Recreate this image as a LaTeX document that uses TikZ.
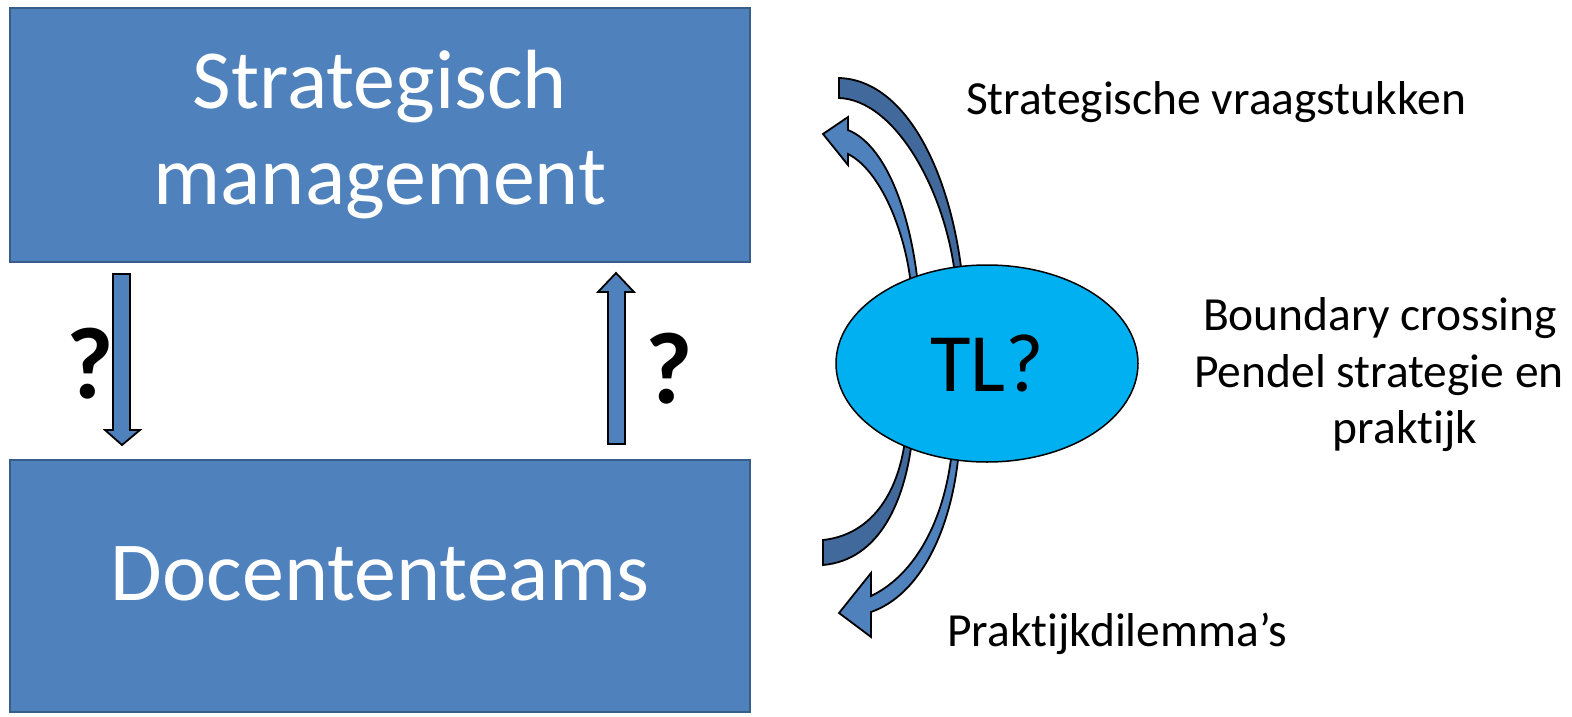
\documentclass[tikz,border=0pt]{standalone}
\usepackage{fontspec}
\setmainfont{Carlito}[Ligatures={NoCommon}]
\usetikzlibrary{shapes.geometric}
\definecolor{boxblue}{HTML}{4F81BD}
\definecolor{boxedge}{HTML}{385D8A}
\definecolor{darkarr}{HTML}{41699B}
\definecolor{tlblue}{HTML}{00B0F0}
\tikzset{
  bigbox/.style={draw=boxedge, line width=2pt, fill=boxblue, text=white, align=center,
    minimum width=740pt, inner sep=0pt, font=\fontsize{84}{96}\selectfont},
  lightarr/.style={draw=black, line width=1.8pt, fill=boxblue, line join=miter},
  darkarrow/.style={draw=black, line width=1.8pt, fill=darkarr, line join=miter},
  qmark/.style={font=\fontsize{102}{110}\selectfont\bfseries},
  sidetext/.style={font=\fontsize{47.5}{57}\selectfont, anchor=base}
}
\begin{document}
\begin{tikzpicture}[x=1pt,y=-1pt]
\useasboundingbox (0,0) rectangle (1572,717);

\node[bigbox, minimum height=254pt] (sm) at (380,135) {Strategisch\\management};
\node[bigbox, minimum height=252pt, text height=60pt, text depth=32pt] (dt) at (380,586) {Docententeams};

% straight arrows
\draw[lightarr] (113,274) -- (130,274) -- (130,430) -- (140,430) -- (122,445) -- (105,430) -- (113,430) -- cycle;
\draw[lightarr] (608,444) -- (625,444) -- (625,292) -- (634,292) -- (616,273) -- (598,292) -- (608,292) -- cycle;
\node[qmark] (q1) at (90,364) {?};
\node[qmark] (q2) at (669,369) {?};

% curved arrows top
\draw[darkarrow] (839,78) -- (839,98)
  .. controls (895,100) and (945,190) .. (955,275)
  -- (962,275)
  .. controls (950,170) and (905,80) .. (839,78)
  -- cycle;
\draw[lightarr] (823,134) -- (848,117) -- (848,130)
  .. controls (885,145) and (910,210) .. (918,285)
  -- (911,285)
  .. controls (905,230) and (880,170) .. (848,154)
  -- (848,165) -- cycle;

% curved arrows bottom
\draw[darkarrow] (823,540) -- (823,565)
  .. controls (880,560) and (905,500) .. (912,440)
  -- (905,440)
  .. controls (898,495) and (870,535) .. (823,540)
  -- cycle;
\draw[lightarr] (839,613) -- (871,573) -- (871,596)
  .. controls (915,575) and (945,520) .. (952,450)
  -- (959,450)
  .. controls (952,530) and (920,595) .. (871,612)
  -- (871,637) -- cycle;

\node[draw=black, line width=1.5pt, fill=tlblue, ellipse, minimum width=302pt, minimum height=197pt,
  inner sep=0pt, font=\fontsize{83}{90}\selectfont] (tl) at (987,363.5) {TL?};

\node[sidetext] (sv) at (1216,114) {Strategische vraagstukken};
\node[sidetext] (bc1) at (1380,330) {Boundary crossing};
\node[sidetext] (bc2) at (1379,387) {Pendel strategie en};
\node[sidetext] (bc3) at (1405,443) {praktijk};
\node[sidetext] (pd) at (1117,646) {Praktijkdilemma’s};
\end{tikzpicture}
\end{document}
